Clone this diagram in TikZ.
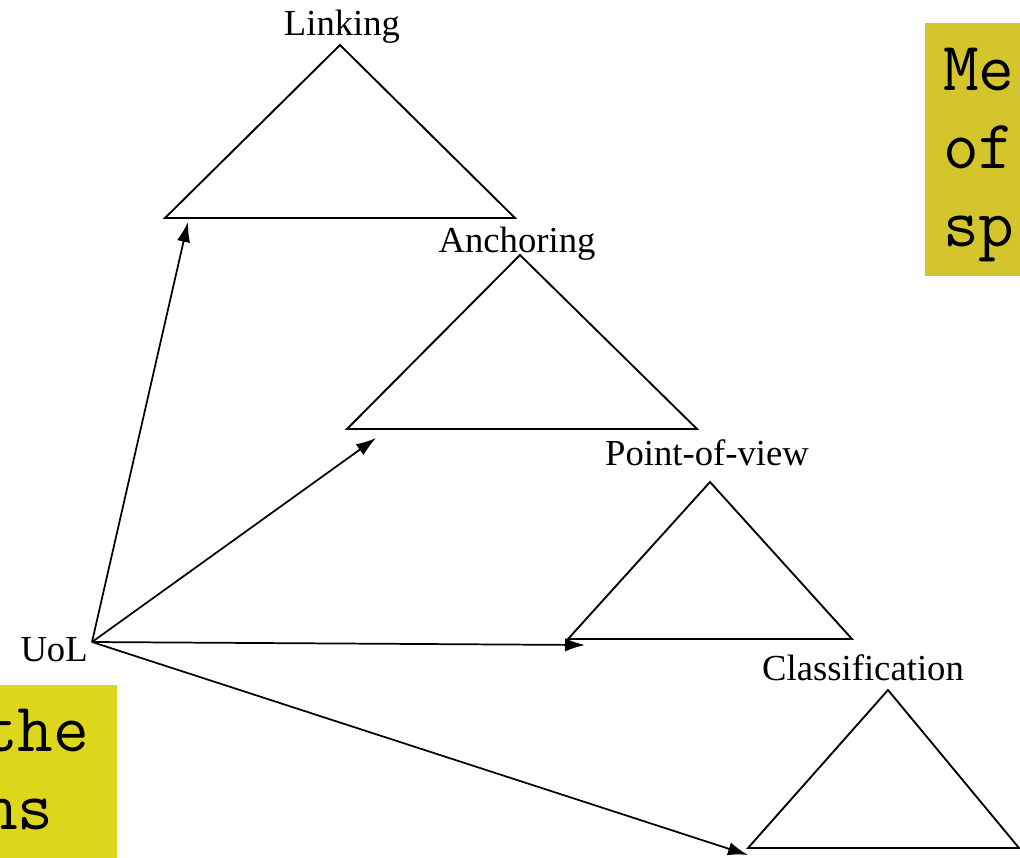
\documentclass[tikz,border=0pt]{standalone}
\usepackage{fontspec}
\setmainfont{Liberation Serif}
\usetikzlibrary{arrows.meta}
\definecolor{noteochre}{HTML}{D3C52B}
\definecolor{noteyellow}{HTML}{DCD71C}
\begin{document}
\begin{tikzpicture}[x=0.75pt,y=-0.75pt,
    tri/.style={line width=1.4pt, line join=miter},
    link/.style={line width=1.3pt, -{Latex[length=15pt,width=10pt]}},
    lbl/.style={font=\fontsize{27.5}{30}\selectfont, anchor=base, inner sep=0pt},
    note/.style={font=\fontsize{52}{58.5}\selectfont\ttfamily, anchor=base west, inner sep=0pt}]
    \useasboundingbox (0,0) rectangle (1020,857);
    \clip (0,0) rectangle (1020,857);
    % yellow note boxes, cut by the border
    \fill[noteochre] (925,23) rectangle (1030,276);
    \fill[noteyellow] (-10,685) rectangle (117,870);
    \node[note] (noteMe) at (943,90) {Me};
    \node[note] (noteOf) at (943,168) {of};
    \node[note] (noteSp) at (943,246) {sp};
    \node[note] (noteThe) at (-18,751) {the};
    \node[note] (noteNs) at (-18,829) {ns};
    % triangles
    \draw[tri] (340,45) coordinate (lnkTop) -- (515,218) coordinate (lnkR) -- (165,218) coordinate (lnkL) -- cycle;
    \draw[tri] (520,255) coordinate (ancTop) -- (697,429) coordinate (ancR) -- (347,429) coordinate (ancL) -- cycle;
    \draw[tri] (710,482) coordinate (povTop) -- (852,639) coordinate (povR) -- (568,639) coordinate (povL) -- cycle;
    \draw[tri] (888,690) coordinate (clsTop) -- (1019,848) coordinate (clsR) -- (748,848) coordinate (clsL) -- cycle;
    \node[lbl] (linking) at (342,35) {Linking};
    \node[lbl] (anchoring) at (517,252) {Anchoring};
    \node[lbl] (pointofview) at (707,465) {Point-of-view};
    \node[lbl] (classification) at (863,680) {Classification};
    % source
    \node[lbl, anchor=base east] (uol) at (88,661) {UoL};
    \coordinate (src) at (92,642);
    \coordinate (tipLnk) at (188,222);
    \coordinate (tipAnc) at (376,438);
    \coordinate (tipPov) at (585,645);
    \coordinate (tipCls) at (748,855);
    \draw[link] (src) -- (tipLnk);
    \draw[link] (src) -- (tipAnc);
    \draw[link] (src) -- (tipPov);
    \draw[link] (src) -- (tipCls);
\end{tikzpicture}
\end{document}
